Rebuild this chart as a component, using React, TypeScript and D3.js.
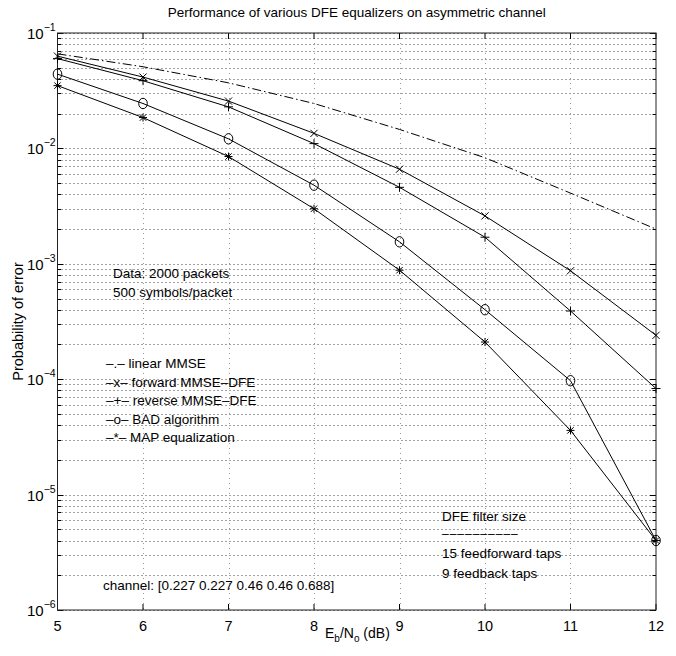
import React from "react";
import * as d3 from "d3";

const ebno = [5, 6, 7, 8, 9, 10, 11, 12];
const linearMMSE = [0.066, 0.051, 0.037, 0.0245, 0.0146, 0.0083, 0.0041, 0.002];
const forwardDFE = [0.063, 0.0415, 0.0257, 0.0135, 0.0066, 0.0026, 0.00087, 0.00024];
const reverseDFE = [0.06, 0.0386, 0.0229, 0.011, 0.0046, 0.0017, 0.00039, 0.000083];
const badAlgo = [0.044, 0.0245, 0.0121, 0.0048, 0.00155, 0.0004, 0.000097, 0.000004];
const mapEq = [0.035, 0.0185, 0.0085, 0.003, 0.00088, 0.00021, 0.000036, 0.000004];

const xTicks = [5, 6, 7, 8, 9, 10, 11, 12];
const yDecades = [-6, -5, -4, -3, -2, -1];

const legendLines = [
  "\u2013.\u2013 linear MMSE",
  "\u2013x\u2013 forward MMSE\u2013DFE",
  "\u2013+\u2013 reverse MMSE\u2013DFE",
  "\u2013o\u2013 BAD algorithm",
  "\u2013*\u2013 MAP equalization",
];

const W = 676, H = 656;
const L = 57.5, R = 656, T = 33, B = 610;
const FONT = "'Liberation Sans', Arial, Helvetica, sans-serif";

export default function App() {
  const x = d3.scaleLinear().domain([5, 12]).range([L, R]);
  const y = d3.scaleLog().domain([1e-6, 1e-1]).range([B, T]);
  const line = d3
    .line<number>()
    .x((_, i) => x(ebno[i]))
    .y((v) => y(v));

  const minorVals: number[] = [];
  for (let k = -6; k < -1 + 0.001; k++) {
    for (let m = 1; m <= 9; m++) {
      const v = m * Math.pow(10, k);
      if (v <= 0.1 + 1e-12 && v >= 1e-6 - 1e-18) minorVals.push(v);
    }
  }

  const xMark = (cx: number, cy: number, s = 3.6) =>
    `M${cx - s},${cy - s}L${cx + s},${cy + s}M${cx - s},${cy + s}L${cx + s},${cy - s}`;
  const plusMark = (cx: number, cy: number, s = 4.5) =>
    `M${cx - s},${cy}L${cx + s},${cy}M${cx},${cy - s}L${cx},${cy + s}`;
  const starMark = (cx: number, cy: number) =>
    xMark(cx, cy, 3.2) + plusMark(cx, cy, 4);

  return (
    <svg
      width={W}
      height={H}
      style={{ position: "absolute", left: 0, top: 0, background: "#fff" }}
      fontFamily={FONT}
    >
      <rect x={0} y={0} width={W} height={H} fill="#fff" />
      {/* horizontal grid */}
      {minorVals.map((v, i) => (
        <line
          key={"h" + i}
          x1={L}
          x2={R}
          y1={Math.round(y(v)) + 0.5}
          y2={Math.round(y(v)) + 0.5}
          stroke="#444"
          strokeWidth={1}
          strokeDasharray="1,3"
        />
      ))}
      {/* vertical grid */}
      {xTicks.slice(1, -1).map((t) => (
        <line
          key={"v" + t}
          x1={Math.round(x(t)) + 0.5}
          x2={Math.round(x(t)) + 0.5}
          y1={T}
          y2={B}
          stroke="#999"
          strokeWidth={1}
          strokeDasharray="1,4"
        />
      ))}
      {/* y ticks */}
      {minorVals.map((v, i) => {
        const major = Math.abs(Math.log10(v) - Math.round(Math.log10(v))) < 1e-9;
        const len = major ? 6 : 3.5;
        const yy = Math.round(y(v)) + 0.5;
        return (
          <g key={"yt" + i}>
            <line x1={L} x2={L + len} y1={yy} y2={yy} stroke="#000" />
            <line x1={R - len} x2={R} y1={yy} y2={yy} stroke="#000" />
          </g>
        );
      })}
      {/* x ticks */}
      {xTicks.map((t) => (
        <g key={"xt" + t}>
          <line x1={x(t)} x2={x(t)} y1={B} y2={B - 6} stroke="#000" />
          <line x1={x(t)} x2={x(t)} y1={T} y2={T + 6} stroke="#000" />
        </g>
      ))}
      {/* frame */}
      <rect x={L} y={T} width={R - L} height={B - T} fill="none" stroke="#222" strokeWidth={1} />

      {/* series */}
      <path d={line(linearMMSE) || ""} fill="none" stroke="#000" strokeWidth={1} strokeDasharray="9,3,1.5,3" />
      <path d={line(forwardDFE) || ""} fill="none" stroke="#000" strokeWidth={1} />
      <path d={line(reverseDFE) || ""} fill="none" stroke="#000" strokeWidth={1} />
      <path d={line(badAlgo) || ""} fill="none" stroke="#000" strokeWidth={1} />
      <path d={line(mapEq) || ""} fill="none" stroke="#000" strokeWidth={1} />
      {forwardDFE.map((v, i) => (
        <path key={"fx" + i} d={xMark(x(ebno[i]), y(v))} stroke="#000" fill="none" />
      ))}
      {reverseDFE.map((v, i) => (
        <path key={"rp" + i} d={plusMark(x(ebno[i]), y(v))} stroke="#000" fill="none" />
      ))}
      {badAlgo.map((v, i) => (
        <ellipse key={"bo" + i} cx={x(ebno[i])} cy={y(v)} rx={4.3} ry={5.2} stroke="#000" fill="none" />
      ))}
      {mapEq.map((v, i) => (
        <path key={"ms" + i} d={starMark(x(ebno[i]), y(v))} stroke="#000" fill="none" />
      ))}

      {/* y tick labels */}
      {yDecades.map((k) => (
        <text key={"yl" + k} x={27} y={y(Math.pow(10, k)) + 6} fontSize={15} fill="#000">
          10
          <tspan dy={-8} fontSize={10.5}>
            {"\u2212" + Math.abs(k)}
          </tspan>
        </text>
      ))}
      {/* x tick labels */}
      {xTicks.map((t) => (
        <text key={"xl" + t} x={x(t)} y={631} fontSize={14.5} textAnchor="middle" fill="#000">
          {t}
        </text>
      ))}

      {/* title */}
      <text x={(L + R) / 2} y={17} fontSize={13.5} textAnchor="middle" fill="#000">
        Performance of various DFE equalizers on asymmetric channel
      </text>
      {/* x label */}
      <text x={325} y={638} fontSize={14} fill="#000">
        E
        <tspan dy={4} fontSize={10}>b</tspan>
        <tspan dy={-4}>/N</tspan>
        <tspan dy={4} fontSize={10}>o</tspan>
        <tspan dy={-4}> (dB)</tspan>
      </text>
      {/* y label */}
      <text
        transform={`translate(23,${(T + B) / 2}) rotate(-90)`}
        fontSize={14.5}
        textAnchor="middle"
        fill="#000"
      >
        Probability of error
      </text>

      {/* annotations */}
      <text x={113} y={278} fontSize={13.5} fill="#000">Data: 2000 packets</text>
      <text x={113} y={297} fontSize={13.5} fill="#000">500 symbols/packet</text>
      {legendLines.map((s, i) => (
        <text key={"lg" + i} x={106} y={368 + i * 18.5} fontSize={13.5} fill="#000">
          {s}
        </text>
      ))}
      <text x={103} y={590} fontSize={13.5} fill="#000">channel: [0.227 0.227 0.46 0.46 0.688]</text>
      <text x={442} y={521} fontSize={13.5} fill="#000">DFE filter size</text>
      <text x={442} y={537.5} fontSize={12} letterSpacing={1} fill="#000">
        {"\u2013\u2013\u2013\u2013\u2013\u2013\u2013\u2013\u2013\u2013"}
      </text>
      <text x={442} y={558} fontSize={13.5} fill="#000">15 feedforward taps</text>
      <text x={442} y={578} fontSize={13.5} fill="#000">9 feedback taps</text>
    </svg>
  );
}
